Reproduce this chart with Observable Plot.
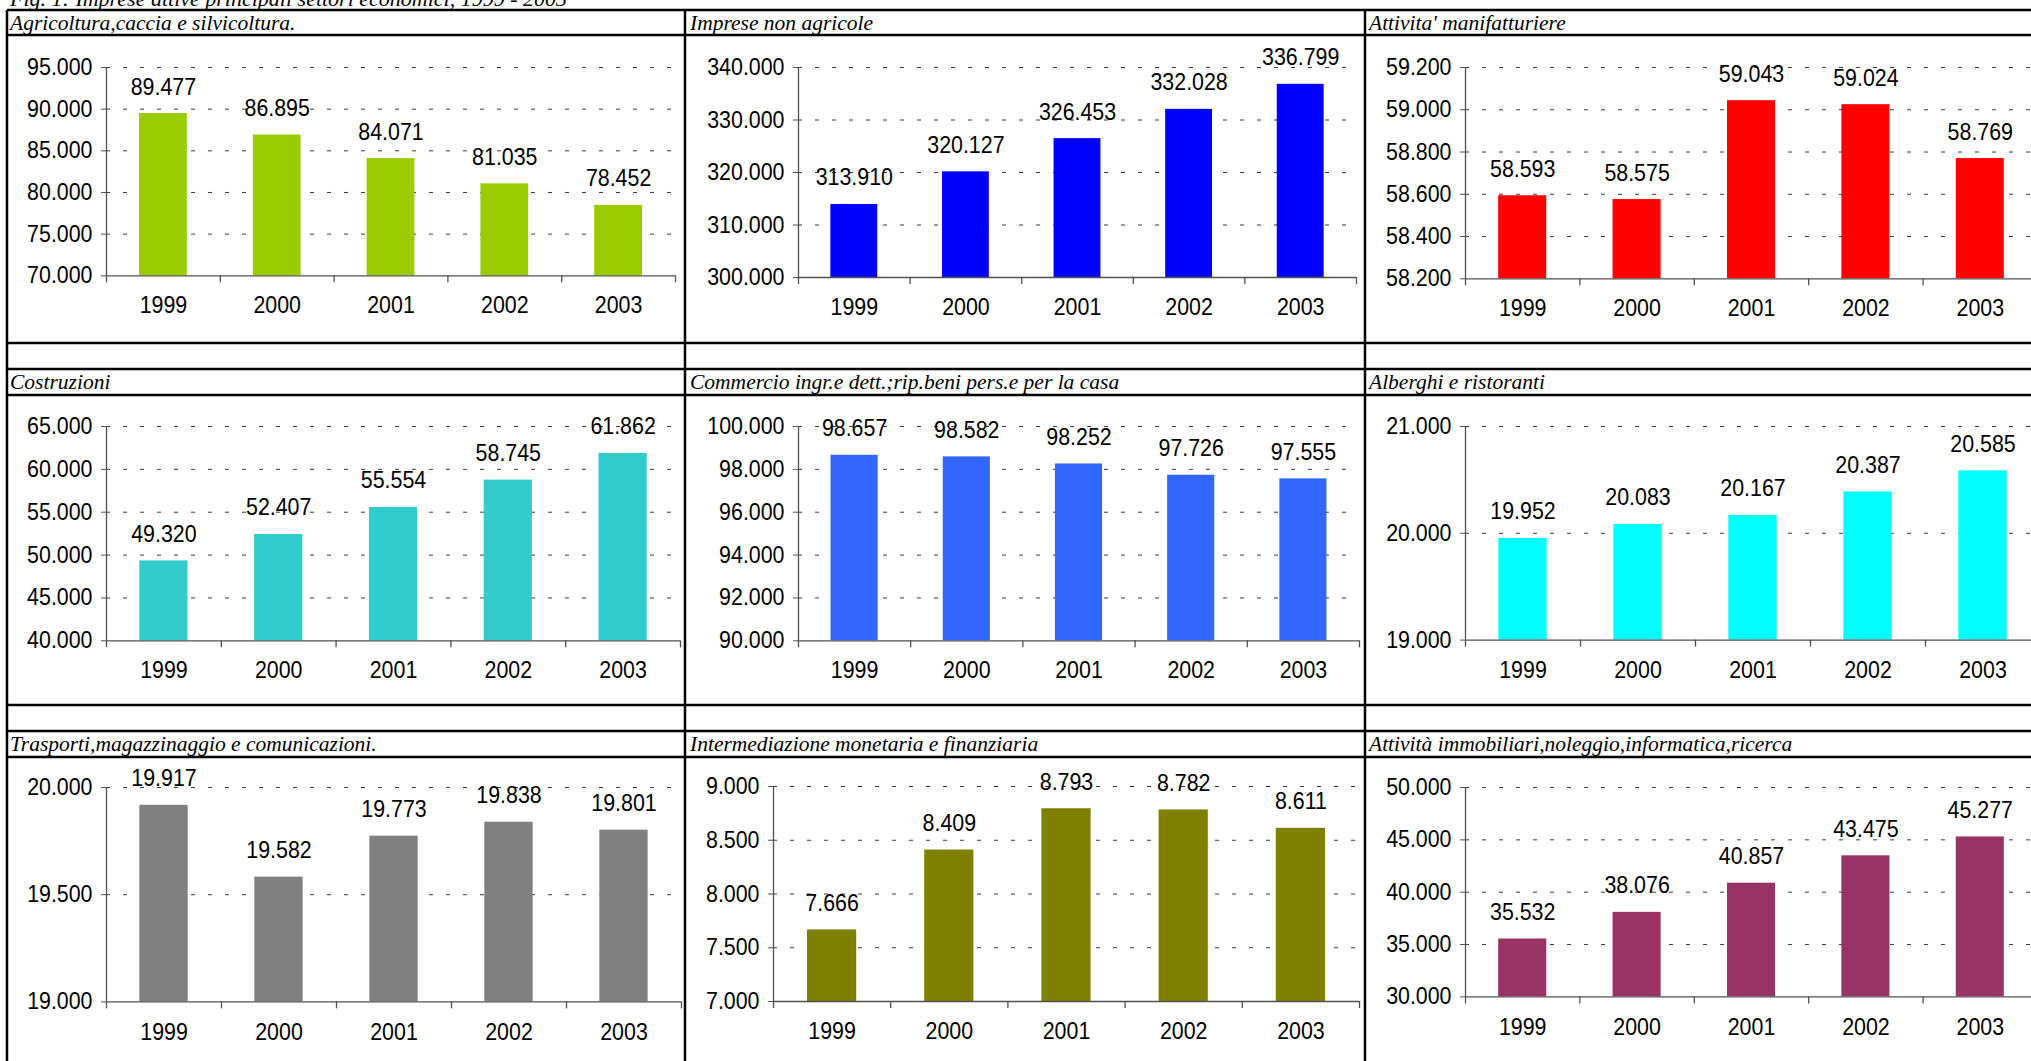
<!DOCTYPE html>
<html><head><meta charset="utf-8">
<script src="https://cdn.jsdelivr.net/npm/d3@7"></script>
<script src="https://cdn.jsdelivr.net/npm/@observablehq/plot@0.6"></script>
<style>
html,body{margin:0;padding:0;background:#fff;}
#root{position:relative;width:2031px;height:1061px;overflow:hidden;background:#fff;}
#root svg{position:absolute;}
</style></head><body><div id="root"></div>
<script>
// ---------- data ----------
const figTitle = "Fig. 1: Imprese attive principali settori economici, 1999 - 2003";
const years = ["1999", "2000", "2001", "2002", "2003"];
const sectorNames = [
  "Agricoltura,caccia e silvicoltura.",
  "Imprese non agricole",
  "Attivita' manifatturiere",
  "Costruzioni",
  "Commercio ingr.e dett.;rip.beni pers.e per la casa",
  "Alberghi e ristoranti",
  "Trasporti,magazzinaggio e comunicazioni.",
  "Intermediazione monetaria e finanziaria",
  "Attività immobiliari,noleggio,informatica,ricerca"
];
const agricoltura     = [89477, 86895, 84071, 81035, 78452];
const nonAgricole     = [313910, 320127, 326453, 332028, 336799];
const manifatturiere  = [58593, 58575, 59043, 59024, 58769];
const costruzioni     = [49320, 52407, 55554, 58745, 61862];
const commercio       = [98657, 98582, 98252, 97726, 97555];
const alberghi        = [19952, 20083, 20167, 20387, 20585];
const trasporti       = [19917, 19582, 19773, 19838, 19801];
const intermediazione = [7666, 8409, 8793, 8782, 8611];
const immobiliari     = [35532, 38076, 40857, 43475, 45277];

const ticksAgricoltura     = [70000, 75000, 80000, 85000, 90000, 95000];
const ticksNonAgricole     = [300000, 310000, 320000, 330000, 340000];
const ticksManifatturiere  = [58200, 58400, 58600, 58800, 59000, 59200];
const ticksCostruzioni     = [40000, 45000, 50000, 55000, 60000, 65000];
const ticksCommercio       = [90000, 92000, 94000, 96000, 98000, 100000];
const ticksAlberghi        = [19000, 20000, 21000];
const ticksTrasporti       = [19000, 19500, 20000];
const ticksIntermediazione = [7000, 7500, 8000, 8500, 9000];
const ticksImmobiliari     = [30000, 35000, 40000, 45000, 50000];

const seriesList = [agricoltura, nonAgricole, manifatturiere, costruzioni, commercio, alberghi, trasporti, intermediazione, immobiliari];
const tickList = [ticksAgricoltura, ticksNonAgricole, ticksManifatturiere, ticksCostruzioni, ticksCommercio, ticksAlberghi, ticksTrasporti, ticksIntermediazione, ticksImmobiliari];

// ---------- styles / layout ----------
const barColors = ["#99CC00", "#0000FF", "#FF0000", "#33CCCC", "#3366FF", "#00FFFF", "#808080", "#808000", "#993366"];
// plot frame [left, right, top, bottom] in page pixels
const frames = [
  [106, 675, 66.7, 275], [798, 1356, 66.7, 276.7], [1465, 2037, 66.7, 278],
  [106, 680, 425.7, 640], [798, 1359, 425.7, 640], [1465, 2040, 425.7, 639.3],
  [106, 681, 787.3, 1001.7], [773, 1359, 786.3, 1001.3], [1465, 2037, 787.3, 996.7]
];
const tableRows = [10, 35, 343, 369, 395, 705, 731, 757, 1067];
const tableCols = [7, 685, 1365, 2044];
const headerBaselines = [30.3, 389.3, 751.3];
const headerX = [10, 690, 1369];
const labelFont = 23.5;      // chart text size
const labelSqueeze = 0.91;   // horizontal condensing of chart text

const it = d3.formatLocale({decimal: ",", thousands: ".", grouping: [3], currency: ["€", ""]});
const fmt = it.format(",d");
const axisColor = "#505050";
const gridColor = "#383838";
const root = document.getElementById("root");

// ---------- table ----------
const tbl = d3.select(root).append("svg").attr("width", 2031).attr("height", 1061)
  .style("left", "0px").style("top", "0px");
tbl.selectAll("line.h").data(tableRows).join("line")
  .attr("x1", tableCols[0]).attr("x2", tableCols[tableCols.length - 1])
  .attr("y1", d => d).attr("y2", d => d)
  .attr("stroke", "#000").attr("stroke-width", 2.5);
tbl.selectAll("line.v").data(tableCols).join("line")
  .attr("class", "v")
  .attr("y1", tableRows[0]).attr("y2", tableRows[tableRows.length - 1])
  .attr("x1", d => d).attr("x2", d => d)
  .attr("stroke", "#000").attr("stroke-width", 2.5);
tbl.append("text").attr("x", 10).attr("y", 6)
  .attr("font-family", "'Liberation Serif', 'Times New Roman', serif")
  .attr("font-style", "italic").attr("font-size", 22).text(figTitle);
sectorNames.forEach((name, i) => {
  tbl.append("text")
    .attr("x", headerX[i % 3]).attr("y", headerBaselines[Math.floor(i / 3)])
    .attr("font-family", "'Liberation Serif', 'Times New Roman', serif")
    .attr("font-style", "italic").attr("font-size", 21.5).text(name);
});

// ---------- charts ----------
function drawChart(values, ticks, color, frame) {
  const [L, R, T, B] = frame;
  const min = ticks[0], max = ticks[ticks.length - 1];
  const step = (R - L) / years.length;
  const data = years.map((y, i) => ({year: y, value: values[i]}));
  const ml = 110, mr = 20, mt = 50, mb = 60;
  const svg = Plot.plot({
    width: (R - L) + ml + mr,
    height: (B - T) + mt + mb,
    marginLeft: ml, marginRight: mr, marginTop: mt, marginBottom: mb,
    x: {domain: years, paddingInner: 0.58, paddingOuter: 0.29, round: false, axis: null},
    y: {domain: [min, max], axis: null},
    style: {background: "transparent", overflow: "visible", fontFamily: "'Liberation Sans', Arial, sans-serif", fontSize: labelFont + "px", color: "#000"},
    marks: [
      Plot.ruleY(ticks.slice(1), {stroke: gridColor, strokeWidth: 1, strokeDasharray: "4,13"}),
      Plot.barY(data, {x: "year", y1: min, y2: "value", fill: color}),
      Plot.ruleY([min], {stroke: axisColor, strokeWidth: 1.3}),
      Plot.ruleX([years[0]], {x: d => d, y1: min, y2: max, dx: -step / 2, stroke: axisColor, strokeWidth: 1.3}),
      Plot.ruleX(years, {x: d => d, y1: min, y2: min, dx: -step / 2, insetBottom: -7, stroke: axisColor, strokeWidth: 1.3}),
      Plot.ruleX([years[years.length - 1]], {x: d => d, y1: min, y2: min, dx: step / 2, insetBottom: -7, stroke: axisColor, strokeWidth: 1.3}),
      Plot.axisY({ticks: ticks, tickSize: 5, tickPadding: 9, tickFormat: fmt, stroke: axisColor, fill: "#000", fontSize: labelFont, label: null}),
      Plot.axisX({tickSize: 0, tickPadding: 21, fill: "#000", fontSize: labelFont, label: null}),
      Plot.text(data, {x: "year", y: "value", text: d => fmt(d.value), dy: -19, lineAnchor: "bottom", fill: "#000", fontSize: labelFont})
    ]
  });
  // condense chart text horizontally around each text's own anchor
  svg.querySelectorAll("text").forEach(t => {
    const x = t.getAttribute("x");
    if (x !== null && x !== "" && !isNaN(+x)) t.setAttribute("x", +x / labelSqueeze);
    const tr = t.getAttribute("transform");
    t.setAttribute("transform", (tr ? tr + " " : "") + `scale(${labelSqueeze},1)`);
  });
  svg.style.position = "absolute";
  svg.style.left = (L - ml) + "px";
  svg.style.top = (T - mt) + "px";
  svg.style.maxWidth = "none";
  root.appendChild(svg);
}

seriesList.forEach((values, i) => drawChart(values, tickList[i], barColors[i], frames[i]));
</script>
</body></html>
